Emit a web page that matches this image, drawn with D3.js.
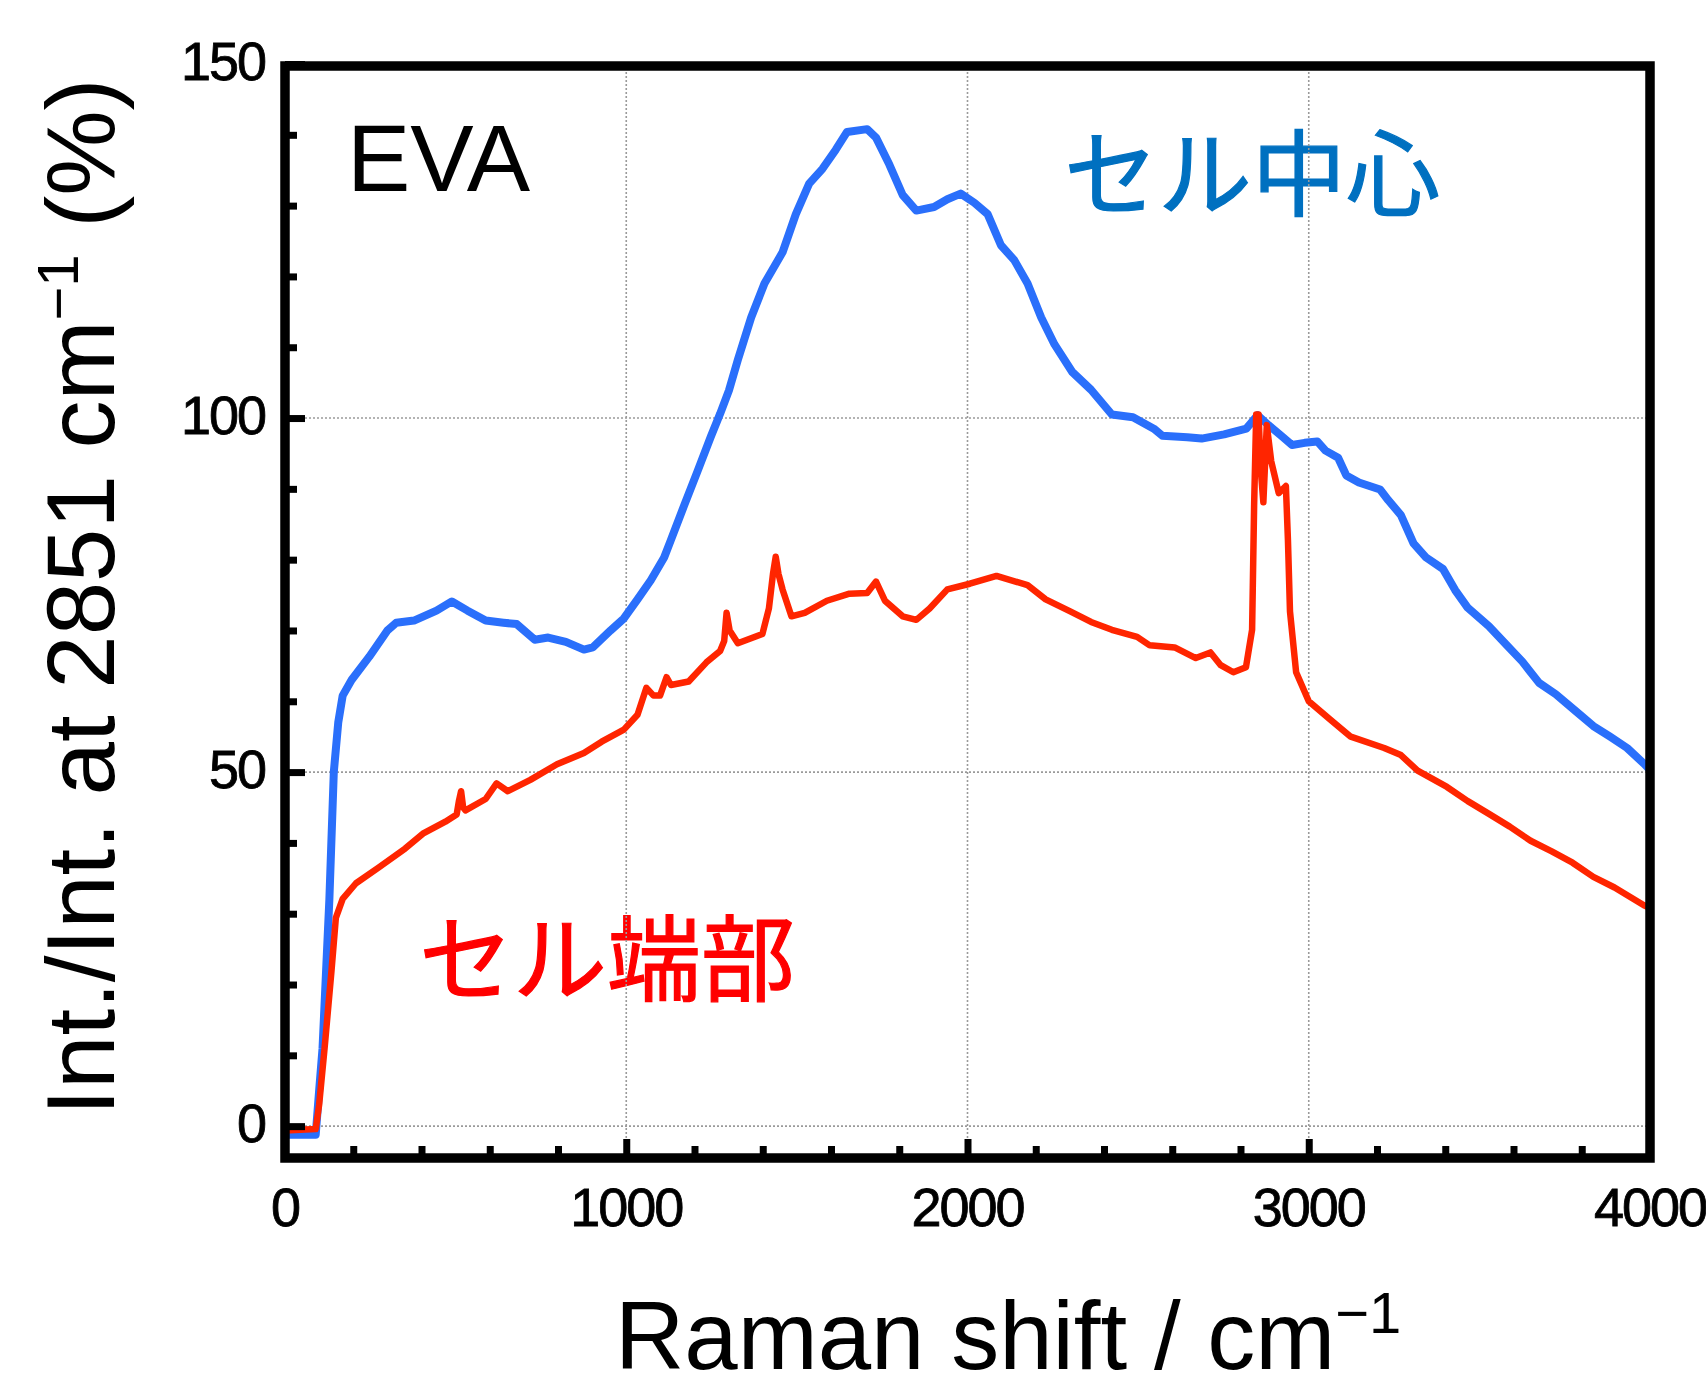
<!DOCTYPE html>
<html>
<head>
<meta charset="utf-8">
<script src="https://cdn.jsdelivr.net/npm/d3@7"></script>
<style>
  html, body { margin: 0; padding: 0; background: #fff; }
  svg { display: block; }
</style>
</head>
<body>
<svg id="chart" width="1706" height="1395"></svg>
<script>
// Raman spectra, EVA, intensity normalised to the 2851 cm-1 band

// ---- data ----
// セル中心 (cell centre), [Raman shift, %]
const centerSpectrum = [
  [0,-1.2],[90,-1.2],[100,5],[110,11],[130,32],[143,50],[156,57],[169,60.8],[195,63],
  [247,66.3],[300,70],[326,71.1],[378,71.4],[444,72.8],[489,74.1],[535,72.8],[588,71.4],
  [640,71.1],[679,70.9],[732,68.7],[771,69],[823,68.4],[876,67.3],[902,67.6],[954,70],
  [993,71.7],[1033,74.4],[1072,77.1],[1111,80.3],[1131,82.8],[1170,87.7],[1209,92.5],
  [1248,97.4],[1275,100.6],[1301,103.9],[1327,108.2],[1366,114.2],[1405,119],[1458,123.4],
  [1497,128.8],[1536,133.1],[1575,135.2],[1614,137.9],[1647,140.4],[1706,140.8],[1732,139.6],
  [1771,135.8],[1810,131.5],[1850,129.3],[1902,129.8],[1941,130.9],[1980,131.7],[2020,130.4],
  [2059,128.8],[2098,124.4],[2137,122.3],[2176,119],[2216,114.2],[2255,110.4],[2307,106.5],
  [2362,104],[2423,100.5],[2485,100.1],[2546,98.5],[2571,97.5],[2644,97.3],[2686,97.1],
  [2752,97.7],[2817,98.5],[2850,100.4],[2882,99],[2922,97.4],[2951,96.2],[2988,96.5],
  [3025,96.7],[3049,95.4],[3086,94.4],[3110,91.9],[3147,90.9],[3209,89.9],[3233,88.4],
  [3270,86.3],[3307,82.3],[3344,80.3],[3393,78.7],[3429,75.7],[3466,73.2],[3528,70.6],
  [3577,68.1],[3626,65.6],[3675,62.6],[3724,61],[3785,58.5],[3834,56.5],[3883,55],
  [3933,53.4],[3982,51.2],[4000,50.3]
];

// セル端部 (cell edge)
const edgeSpectrum = [
  [0,-0.6],[90,-0.4],[100,3],[116,11],[136,21.8],[149,29.4],[169,32.1],[208,34.3],
  [274,36.5],[352,39.2],[404,41.3],[470,43],[503,44],[510,46],[516,47.3],[522,45],
  [529,44.6],[588,46.2],[620,48.4],[653,47.3],[719,48.9],[797,51.1],[876,52.7],[928,54.3],
  [993,56],[1033,58.1],[1059,61.9],[1080,60.8],[1099,60.8],[1118,63.4],[1131,62.3],
  [1183,62.8],[1235,65.5],[1275,67.1],[1287,68.5],[1294,72.5],[1303,70],[1327,68.2],
  [1399,69.5],[1418,73.1],[1430,78],[1438,80.4],[1446,78],[1458,75.8],[1484,72],
  [1523,72.5],[1588,74.2],[1654,75.2],[1706,75.3],[1732,76.9],[1758,74.2],[1810,72],
  [1850,71.5],[1889,73.1],[1941,75.8],[2007,76.6],[2085,77.7],[2176,76.4],[2229,74.4],
  [2301,72.7],[2362,71.2],[2423,70.1],[2497,69.1],[2534,67.9],[2607,67.6],[2669,66.1],
  [2712,66.9],[2742,65.1],[2779,64.1],[2816,64.8],[2834,70.1],[2840,87.9],[2846,100.5],
  [2853,100.5],[2859,92.9],[2867,88.1],[2877,99],[2890,93.9],[2912,89.4],[2933,90.4],
  [2939,82.8],[2945,72.7],[2963,64.1],[3000,60],[3061,57.5],[3123,55],[3221,53.4],
  [3270,52.4],[3319,50.2],[3405,47.9],[3466,45.9],[3528,44.1],[3589,42.3],[3650,40.3],
  [3712,38.8],[3773,37.2],[3834,35.2],[3896,33.7],[3982,31.2],[4000,30.8]
];

const xMajorTicks = [0, 1000, 2000, 3000, 4000];
const yMajorTicks = [0, 50, 100, 150];
const xGridValues = [1000, 2000, 3000];
const yGridValues = [0, 50, 100];

// ---- layout ----
const plot = { left: 285, right: 1650, top: 64, bottom: 1158 };
const font = "'Liberation Sans', Arial, Helvetica, sans-serif";
const cjk  = "'Noto Sans CJK JP', 'Noto Sans CJK SC', sans-serif";

const svg = d3.select("#chart");

const x = d3.scaleLinear().domain([0, 4000]).range([plot.left, plot.right]);
const y = d3.scaleLinear().domain([-4.5, 150]).range([plot.bottom, plot.top]);

svg.append("defs").append("clipPath").attr("id", "plotClip")
  .append("rect")
  .attr("x", plot.left).attr("y", plot.top)
  .attr("width", plot.right - plot.left).attr("height", plot.bottom - plot.top);

// ---- in-plot labels (grid draws over them in the original) ----
svg.append("text")
  .attr("x", 347).attr("y", 191)
  .attr("font-family", font).attr("font-size", 95)
  .attr("fill", "#000")
  .text("EVA");

svg.append("text")
  .attr("x", 1252).attr("y", 209)
  .attr("text-anchor", "middle")
  .attr("font-family", cjk).attr("font-size", 94)
  .attr("fill", "#0070c0")
  .attr("stroke", "#0070c0").attr("stroke-width", 1.2)
  .text("セル中心");

svg.append("text")
  .attr("x", 607).attr("y", 994)
  .attr("text-anchor", "middle")
  .attr("font-family", cjk).attr("font-size", 94)
  .attr("fill", "#ff0000")
  .attr("stroke", "#ff0000").attr("stroke-width", 1.2)
  .text("セル端部");

// ---- grid ----
const grid = svg.append("g")
  .attr("stroke", "#9a9a9a")
  .attr("stroke-width", 1.6)
  .attr("stroke-dasharray", "2,2");

grid.selectAll("line.vg").data(xGridValues).join("line")
  .attr("class", "vg")
  .attr("x1", d => x(d)).attr("x2", d => x(d))
  .attr("y1", plot.top).attr("y2", plot.bottom);

grid.selectAll("line.hg").data(yGridValues).join("line")
  .attr("class", "hg")
  .attr("x1", plot.left).attr("x2", plot.right)
  .attr("y1", d => y(d)).attr("y2", d => y(d));

// ---- spectra ----
const line = d3.line().x(d => x(d[0])).y(d => y(d[1]));

const curves = svg.append("g").attr("clip-path", "url(#plotClip)");

curves.append("path")
  .datum(centerSpectrum)
  .attr("d", line)
  .attr("fill", "none")
  .attr("stroke", "#2a6ffb")
  .attr("stroke-width", 8)
  .attr("stroke-linejoin", "round");

curves.append("path")
  .datum(edgeSpectrum)
  .attr("d", line)
  .attr("fill", "none")
  .attr("stroke", "#ff2500")
  .attr("stroke-width", 6.5)
  .attr("stroke-linejoin", "round");

// ---- axes (inward ticks, thick frame) ----
const xAxis = d3.axisBottom(x)
  .tickValues(d3.range(0, 4001, 200))
  .tickSize(0)
  .tickFormat("");
const yAxis = d3.axisLeft(y)
  .tickValues(d3.range(0, 151, 10))
  .tickSize(0)
  .tickFormat("");

const gx = svg.append("g").attr("transform", `translate(0,${plot.bottom})`).call(xAxis);
gx.select(".domain").remove();
gx.selectAll(".tick line")
  .attr("stroke", "#000").attr("stroke-width", 7)
  .attr("y2", d => d % 1000 === 0 ? -19 : -12);

const gy = svg.append("g").attr("transform", `translate(${plot.left},0)`).call(yAxis);
gy.select(".domain").remove();
gy.selectAll(".tick line")
  .attr("stroke", "#000").attr("stroke-width", 7)
  .attr("x2", d => d % 50 === 0 ? 20 : 12);

svg.append("rect")
  .attr("x", plot.left).attr("y", plot.top + 2)
  .attr("width", plot.right - plot.left)
  .attr("height", plot.bottom - plot.top - 2)
  .attr("fill", "none")
  .attr("stroke", "#000")
  .attr("stroke-width", 9.5);

// tick labels
svg.append("g").selectAll("text").data(xMajorTicks).join("text")
  .attr("x", d => x(d)).attr("y", 1226)
  .attr("text-anchor", "middle")
  .attr("font-family", font).attr("font-size", 54)
  .attr("letter-spacing", -2)
  .attr("stroke", "#000").attr("stroke-width", 0.8)
  .text(d => d);

svg.append("g").selectAll("text").data(yMajorTicks).join("text")
  .attr("x", 265).attr("y", d => y(d) + 16)
  .attr("text-anchor", "end")
  .attr("font-family", font).attr("font-size", 54)
  .attr("letter-spacing", -2)
  .attr("stroke", "#000").attr("stroke-width", 0.8)
  .text(d => d);

// ---- axis titles ----
const xt = svg.append("text")
  .attr("x", 615).attr("y", 1369)
  .attr("font-family", font).attr("font-size", 96)
  .attr("fill", "#000");
xt.append("tspan").text("Raman shift / cm");
xt.append("tspan").attr("font-size", 58).attr("dy", -36).text("\u22121");

const yt = svg.append("text")
  .attr("transform", "translate(114,597) rotate(-90)")
  .attr("text-anchor", "middle")
  .attr("font-family", font).attr("font-size", 96)
  .attr("fill", "#000");
yt.append("tspan").text("Int./Int. at 2851 cm");
yt.append("tspan").attr("font-size", 58).attr("dy", -36).text("\u22121");
yt.append("tspan").attr("dy", 36).text(" (%)");
</script>
</body>
</html>
